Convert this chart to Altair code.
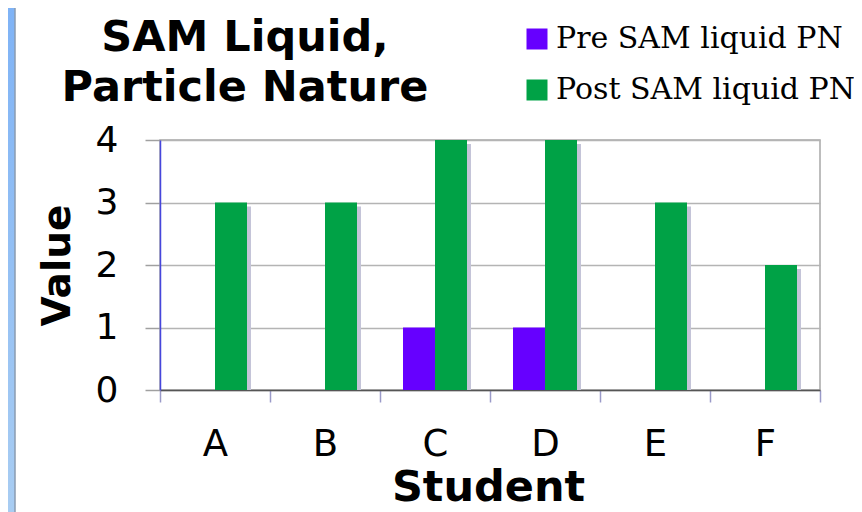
import altair as alt
import pandas as pd

students = ["A", "B", "C", "D", "E", "F"]
series = ["Pre SAM liquid PN", "Post SAM liquid PN"]
pre_values = [0, 0, 1, 1, 0, 0]
post_values = [3, 3, 4, 4, 3, 2]
y_ticks = [0, 1, 2, 3, 4]
title_lines = ["SAM Liquid,", "Particle Nature"]
bar_colors = ["#6600ff", "#00a246"]
shadow_color = "#c4c4d8"

rows = []
for s, p, q in zip(students, pre_values, post_values):
    rows.append({"Student": s, "Series": series[0], "Value": p})
    rows.append({"Student": s, "Series": series[1], "Value": q})
df = pd.DataFrame(rows)

x_enc = alt.X(
    "Student:N",
    sort=students,
    scale=alt.Scale(paddingInner=0, paddingOuter=0),
    axis=alt.Axis(
        title="Student",
        labelAngle=0,
        tickBand="extent",
        tickSize=12,
        tickColor="#9a9ac8",
        tickWidth=1.5,
        domainColor="#555555",
        domainWidth=1.5,
        labelFont="DejaVu Sans",
        labelFontSize=37,
        labelColor="black",
        labelPadding=24,
        titleFont="DejaVu Sans",
        titleFontSize=43,
        titleFontWeight="bold",
        titleColor="black",
        titleX=328,
        titleY=110,
        titleAlign="center",
        titleBaseline="alphabetic",
        grid=False,
    ),
)
y_enc = alt.Y(
    "Value:Q",
    scale=alt.Scale(domain=[0, 4], nice=False),
    axis=alt.Axis(
        title="Value",
        values=y_ticks,
        format="d",
        tickSize=15,
        tickColor="#a0a0a0",
        tickWidth=1.5,
        domainColor="#4646dc",
        domainWidth=1.5,
        gridColor="#b4b4b4",
        gridWidth=1.5,
        labelFont="DejaVu Sans",
        labelFontSize=36,
        labelColor="black",
        labelPadding=27,
        titleFont="DejaVu Sans",
        titleFontSize=39,
        titleFontWeight="bold",
        titleColor="black",
        titleAngle=270,
        titleX=-103,
        titleY=125,
        titleAlign="center",
        titleBaseline="middle",
    ),
)

strip = alt.Chart(alt.Data(values=[{"s": 1}])).mark_rect(
    color=alt.LinearGradient(
        gradient="linear",
        stops=[alt.GradientStop(color="#7fb3f6", offset=0),
               alt.GradientStop(color="#a9cdf2", offset=1)],
        x1=0, x2=0, y1=0, y2=1,
    )
).encode(
    x=alt.value(-152), x2=alt.value(-145), y=alt.value(-132), y2=alt.value(380)
)
edge = alt.Chart(alt.Data(values=[{"s": 1}])).mark_rule(
    color="#8a9bb0", strokeWidth=1.5
).encode(
    x=alt.value(-145), y=alt.value(-132), y2=alt.value(380)
)

shadow = alt.Chart(df).transform_filter("datum.Value > 0").mark_bar(
    color=shadow_color, yOffset=4, clip=True
).encode(
    x=x_enc,
    y=y_enc,
    xOffset=alt.XOffset(
        "Series:N", sort=series,
        scale=alt.Scale(domain=series, range=[27, 91], paddingInner=0, paddingOuter=0),
    ),
)

bars = alt.Chart(df).mark_bar().encode(
    x=x_enc,
    y=y_enc,
    xOffset=alt.XOffset(
        "Series:N", sort=series,
        scale=alt.Scale(domain=series, range=[23, 87], paddingInner=0, paddingOuter=0),
    ),
    color=alt.Color(
        "Series:N",
        scale=alt.Scale(domain=series, range=bar_colors),
        legend=alt.Legend(
            title=None,
            orient="none",
            legendX=362,
            legendY=-116,
            symbolType="square",
            symbolSize=441,
            symbolStrokeWidth=0,
            symbolOpacity=1,
            labelFont="DejaVu Serif",
            labelFontSize=30,
            labelColor="black",
            labelOffset=4,
            rowPadding=21,
            padding=0,
            labelLimit=400,
        ),
    ),
)

chart = alt.layer(strip, edge, shadow, bars).resolve_scale(
    xOffset="independent"
).properties(
    width=660,
    height=250,
    autosize=alt.AutoSizeParams(type="none"),
    padding={"left": 152, "top": 132, "right": 34, "bottom": 122},
    title=alt.TitleParams(
        text=title_lines,
        font="DejaVu Sans",
        fontSize=43,
        fontWeight="bold",
        color="black",
        anchor="middle",
        frame="group",
        baseline="bottom",
        dx=-245,
        dy=154,
        lineHeight=50,
        offset=8,
    ),
).configure(background="white").configure_view(stroke="#a8a8a8", strokeWidth=1.5)

chart.save("out.html", embed_options={"renderer": "svg", "actions": False})
